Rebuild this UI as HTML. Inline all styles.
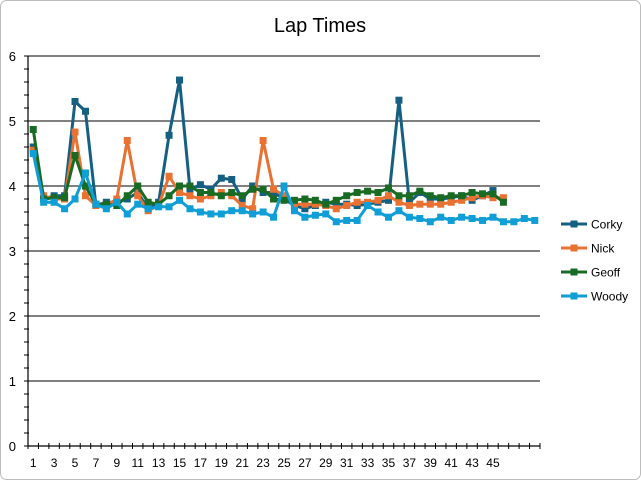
<!DOCTYPE html>
<html><head><meta charset="utf-8"><style>
body{margin:0;background:#fff;font-family:"Liberation Sans",sans-serif}
svg{display:block}
</style></head><body>
<svg width="641" height="480">
<rect x="0.5" y="0.5" width="640" height="479" rx="6" fill="#fff" stroke="#bdbdbd"/>
<text x="320" y="32" font-size="20" text-anchor="middle" fill="#000">Lap Times</text>
<g id="grid"></g><g id="axes"></g><g id="series"></g><g id="legend"></g>
</svg>
<script>
const categories = Array.from({length:49},(_,i)=>i+1);
const xTickLabels = [1,3,5,7,9,11,13,15,17,19,21,23,25,27,29,31,33,35,37,39,41,43,45];
const yTicks = [0,1,2,3,4,5,6];
const seriesNames = ["Corky","Nick","Geoff","Woody"];
const seriesColors = ["#156082","#e97132","#196b24","#0f9ed5"];
const corky = [4.6,3.8,3.85,3.85,5.3,5.15,3.7,3.75,3.75,3.8,3.9,3.65,3.75,4.78,5.63,3.95,4.02,3.95,4.12,4.1,3.8,4.0,3.9,3.9,3.8,3.7,3.65,3.7,3.75,3.72,3.72,3.7,3.72,3.75,3.78,5.32,3.75,3.9,3.8,3.8,3.82,3.85,3.78,3.85,3.93];
const nick = [4.55,3.85,3.8,3.8,4.83,3.85,3.7,3.7,3.8,4.7,3.85,3.62,3.7,4.15,3.9,3.85,3.8,3.85,3.9,3.85,3.7,3.65,4.7,3.95,3.85,3.72,3.72,3.72,3.7,3.65,3.7,3.75,3.75,3.78,3.85,3.75,3.7,3.72,3.72,3.72,3.75,3.78,3.82,3.85,3.82,3.82];
const geoff = [4.87,3.8,3.82,3.82,4.47,4.0,3.72,3.72,3.7,3.85,4.0,3.75,3.72,3.85,4.0,4.0,3.9,3.9,3.85,3.9,3.85,3.95,3.95,3.8,3.78,3.78,3.8,3.78,3.72,3.78,3.85,3.9,3.92,3.9,3.97,3.85,3.85,3.92,3.85,3.82,3.85,3.85,3.9,3.88,3.88,3.75];
const woody = [4.5,3.75,3.75,3.65,3.8,4.2,3.72,3.65,3.75,3.57,3.72,3.65,3.68,3.68,3.78,3.65,3.6,3.57,3.57,3.62,3.62,3.57,3.6,3.52,4.0,3.62,3.52,3.55,3.57,3.45,3.47,3.47,3.7,3.6,3.52,3.62,3.52,3.5,3.45,3.52,3.47,3.52,3.5,3.47,3.52,3.45,3.45,3.5,3.47];
const allSeries = [corky,nick,geoff,woody];

const L=28,R=540,T=56,B=446,NS="http://www.w3.org/2000/svg";
const band=(R-L)/categories.length;
const x=c=>L+band*(c-0.5);
const y=v=>B-(v-0)/(6-0)*(B-T);
function mk(tag,attrs,parent){const e=document.createElementNS(NS,tag);for(const k in attrs)e.setAttribute(k,attrs[k]);parent.appendChild(e);return e;}
const grid=document.getElementById('grid'),axes=document.getElementById('axes'),ser=document.getElementById('series'),leg=document.getElementById('legend');
yTicks.forEach(v=>{
  if(v>0){const g=mk('line',{x1:L,x2:R,y1:y(v),y2:y(v),stroke:'#000','stroke-width':1},grid);
  
  }
  const t=mk('text',{x:16,y:y(v)+5,'font-size':13,'text-anchor':'end',fill:'#000'},axes);t.textContent=v;
  
  
});
for(let v=0;v<=6.001;v+=0.2){const tk=mk('line',{x1:L-4,x2:L+1,y1:y(v),y2:y(v),stroke:'#000'},axes);
  
  }
const ya=mk('line',{x1:L,x2:L,y1:T,y2:B,stroke:'#000','stroke-width':1.2},axes);


const xa=mk('line',{x1:L,x2:R,y1:B,y2:B,stroke:'#000','stroke-width':1.2},axes);


for(let i=0;i<=categories.length;i++){const tk=mk('line',{x1:L+band*i,x2:L+band*i,y1:B-3,y2:B+3,stroke:'#000'},axes);
  
  }
xTickLabels.forEach(c=>{const t=mk('text',{x:x(c),y:B+21,'font-size':12,'text-anchor':'middle',fill:'#000'},axes);t.textContent=c;
  
  });
allSeries.forEach((d,si)=>{
  const col=seriesColors[si];
  const g=mk('g',{},ser);
  
  
  const pl=mk('polyline',{points:d.map((v,i)=>x(i+1)+','+y(v)).join(' '),fill:'none',stroke:col,'stroke-width':3,'stroke-linejoin':'round'},g);
  
  
  d.forEach((v,i)=>{const m=mk('rect',{x:x(i+1)-3.5,y:y(v)-3.5,width:7,height:7,fill:col},g);
    
    });
  const ly=[224,248,272,296][si];
  const lg=mk('g',{},leg);
  
  
  mk('line',{x1:561,x2:587,y1:ly,y2:ly,stroke:col,'stroke-width':3},lg);
  mk('rect',{x:570.5,y:ly-3.5,width:7,height:7,fill:col},lg);
  const t=mk('text',{x:591,y:ly+4.5,'font-size':12,fill:'#000'},lg);t.textContent=seriesNames[si];
});
</script>
</body></html>
